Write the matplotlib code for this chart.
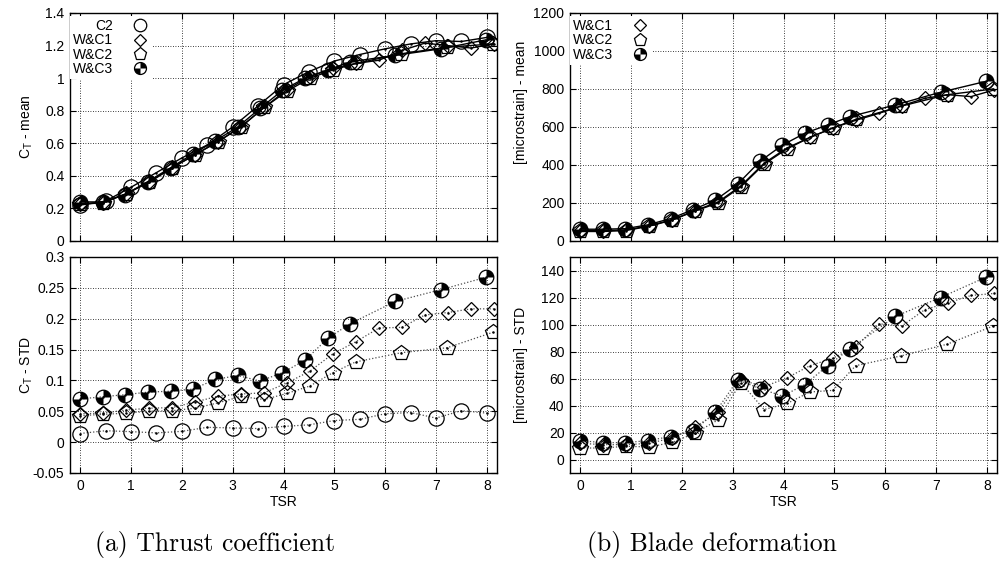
import numpy as np
import matplotlib
matplotlib.use('Agg')
import matplotlib.pyplot as plt
from matplotlib.path import Path
from matplotlib.lines import Line2D
from matplotlib.ticker import FuncFormatter

plt.rcParams['font.family'] = ['Liberation Sans', 'DejaVu Sans']
plt.rcParams['mathtext.fontset'] = 'custom'
plt.rcParams['mathtext.rm'] = 'Liberation Sans'
plt.rcParams['mathtext.it'] = 'Liberation Sans:italic'
plt.rcParams['axes.unicode_minus'] = False

# TSR sample points of each run
tsr_c2 = [0.0, 0.5, 1.0, 1.5, 2.0, 2.5, 3.0, 3.5, 4.0, 4.5, 5.0, 5.5, 6.0, 6.5, 7.0, 7.5, 8.0]
tsr_wc1 = [0.0, 0.45, 0.9, 1.36, 1.81, 2.26, 2.71, 3.16, 3.62, 4.07, 4.52, 4.97, 5.42, 5.88,
           6.33, 6.78, 7.23, 7.69, 8.14]
tsr_wc2 = [0.0, 0.45, 0.9, 1.36, 1.81, 2.26, 2.71, 3.16, 3.62, 4.07, 4.52, 4.97, 5.42, 6.32,
           7.22, 8.12]
tsr_wc3 = [0.0, 0.44, 0.89, 1.33, 1.78, 2.22, 2.66, 3.1, 3.54, 3.98, 4.42, 4.87, 5.31, 6.2,
           7.09, 7.98]

# thrust coefficient, mean
ct_mean_c2 = [0.22, 0.245, 0.33, 0.42, 0.51, 0.59, 0.70, 0.83, 0.96, 1.04, 1.105, 1.145, 1.18,
              1.21, 1.23, 1.225, 1.25]
ct_mean_wc1 = [0.225, 0.235, 0.29, 0.365, 0.45, 0.53, 0.61, 0.70, 0.82, 0.93, 1.01, 1.06, 1.09,
               1.11, 1.17, 1.215, 1.20, 1.185, 1.21]
ct_mean_wc2 = [0.23, 0.235, 0.29, 0.36, 0.45, 0.53, 0.61, 0.70, 0.82, 0.92, 1.0, 1.05, 1.09,
               1.15, 1.19, 1.21]
ct_mean_wc3 = [0.24, 0.24, 0.285, 0.365, 0.45, 0.535, 0.615, 0.70, 0.815, 0.925, 1.0, 1.05,
               1.10, 1.14, 1.18, 1.235]

# thrust coefficient, standard deviation
ct_std_c2 = [0.014, 0.0185, 0.017, 0.015, 0.0175, 0.024, 0.023, 0.022, 0.0255, 0.028, 0.035,
             0.037, 0.046, 0.048, 0.039, 0.051, 0.047]
ct_std_wc1 = [0.046, 0.047, 0.052, 0.055, 0.056, 0.065, 0.0745, 0.078, 0.080, 0.096, 0.115,
              0.143, 0.1625, 0.185, 0.186, 0.206, 0.210, 0.216, 0.216]
ct_std_wc2 = [0.043, 0.045, 0.047, 0.050, 0.051, 0.055, 0.0636, 0.074, 0.069, 0.079, 0.091,
              0.1125, 0.130, 0.145, 0.153, 0.178]
ct_std_wc3 = [0.070, 0.0735, 0.077, 0.081, 0.0826, 0.086, 0.1016, 0.108, 0.099, 0.1125, 0.1326,
              0.168, 0.192, 0.228, 0.247, 0.267]

# blade strain [microstrain], mean
bd_mean_wc1 = [55, 55, 58, 80, 112, 160, 205, 290, 410, 490, 545, 595, 635, 672, 712, 751, 770,
               760, 795]
bd_mean_wc2 = [50, 50, 55, 78, 110, 158, 200, 285, 405, 485, 545, 595, 640, 710, 770, 800]
bd_mean_wc3 = [62, 62, 65, 85, 118, 165, 215, 300, 420, 505, 567, 611, 655, 716, 783, 840]

# blade strain [microstrain], standard deviation
bd_std_wc1 = [12, 11, 11, 12, 16, 24, 35, 59, 54, 60.5, 69.5, 75, 83.5, 100.5, 99, 111, 116,
              121.5, 123]
bd_std_wc2 = [8.5, 8.5, 9.8, 9.3, 12.7, 19.5, 29.3, 57, 37, 41.5, 50, 51.2, 69.5, 76.8, 85.4,
              98.8]
bd_std_wc3 = [14, 12.5, 12.5, 14, 17, 21, 35, 59, 52.5, 47, 55.5, 69.5, 82, 106, 120, 135]

# quartered circle: black top-right and bottom-left
pie = Path.make_compound_path(Path.wedge(0, 90), Path.wedge(180, 270))

marks = {
    'C2': dict(marker='o', ms=11),
    'W&C1': dict(marker='D', ms=7.6),
    'W&C2': dict(marker='p', ms=11.5),
    'W&C3': dict(marker='o', ms=10.5),
}


def series(ax, x, y, key, ls, lw, lc):
    m = marks[key]
    ax.plot(x, y, ls=ls, lw=lw, color=lc, marker=m['marker'], ms=m['ms'],
            mfc='none', mec='k', mew=0.9, zorder=3)
    if key == 'W&C3':
        ax.plot(x, y, ls='none', marker=pie, ms=m['ms'], mfc='k', mec='none', zorder=4)
    ax.plot(x, y, ls='none', marker='.', ms=1.6, color='k', zorder=5)


def proxy(key):
    m = marks[key]
    h = Line2D([], [], ls='none', marker=m['marker'], ms=m['ms'], mfc='none', mec='k', mew=0.9)
    if key == 'W&C3':
        return (h, Line2D([], [], ls='none', marker=pie, ms=m['ms'], mfc='k', mec='none'))
    return h


def style(ax, yticks, bottom):
    ax.set_xlim(-0.2, 8.2)
    ax.set_xticks(range(0, 9))
    ax.set_yticks(yticks)
    ax.yaxis.set_major_formatter(FuncFormatter(lambda v, p: '%g' % (round(v, 6) + 0.0)))
    ax.tick_params(direction='in', top=True, right=True, length=4, width=0.8,
                   labelsize=10, pad=4)
    if not bottom:
        ax.tick_params(labelbottom=False)
    else:
        ax.set_xlabel('TSR', fontsize=10, labelpad=2)
    ax.grid(True, ls=(0, (1, 2)), color='k', lw=0.6)
    ax.set_axisbelow(True)
    for s in ax.spines.values():
        s.set_linewidth(1.0)


def legend(ax, keys):
    lg = ax.legend([proxy(k) for k in keys], keys, loc='upper left', markerfirst=False,
                   bbox_to_anchor=(0.0, 0.985), frameon=True, fancybox=False,
                   edgecolor='none', facecolor='white', framealpha=1, borderaxespad=0,
                   borderpad=0.2, labelspacing=0.02, handlelength=1.3, handletextpad=1.3,
                   markerscale=0.82, fontsize=10)
    lg.set_zorder(6)


fig = plt.figure(figsize=(10.02, 5.67), dpi=100)
W, H = 1002, 567


def axes_px(x0, y0, x1, y1):
    return fig.add_axes([x0 / W, 1 - y1 / H, (x1 - x0) / W, (y1 - y0) / H])


ax_a1 = axes_px(70, 13, 497, 241)
ax_a2 = axes_px(70, 257, 497, 473)
ax_b1 = axes_px(570, 13, 997, 241)
ax_b2 = axes_px(570, 257, 997, 473)

# (a) thrust coefficient
series(ax_a1, tsr_c2, ct_mean_c2, 'C2', '-', 1.0, 'k')
series(ax_a1, tsr_wc1, ct_mean_wc1, 'W&C1', '-', 1.0, 'k')
series(ax_a1, tsr_wc2, ct_mean_wc2, 'W&C2', '-', 1.0, 'k')
series(ax_a1, tsr_wc3, ct_mean_wc3, 'W&C3', '-', 1.0, 'k')
style(ax_a1, [0, 0.2, 0.4, 0.6, 0.8, 1.0, 1.2, 1.4], False)
ax_a1.set_ylim(0, 1.4)
ax_a1.set_ylabel(r'C$_{\mathrm{T}}$ - mean', fontsize=10)
ax_a1.yaxis.set_label_coords(-0.082, 0.5)
legend(ax_a1, ['C2', 'W&C1', 'W&C2', 'W&C3'])

dot = (0, (1, 1.6))
series(ax_a2, tsr_c2, ct_std_c2, 'C2', dot, 0.9, '0.3')
series(ax_a2, tsr_wc1, ct_std_wc1, 'W&C1', dot, 0.9, '0.3')
series(ax_a2, tsr_wc2, ct_std_wc2, 'W&C2', dot, 0.9, '0.3')
series(ax_a2, tsr_wc3, ct_std_wc3, 'W&C3', dot, 0.9, '0.3')
style(ax_a2, [-0.05, 0, 0.05, 0.1, 0.15, 0.2, 0.25, 0.3], True)
ax_a2.set_ylim(-0.05, 0.3)
ax_a2.set_ylabel(r'C$_{\mathrm{T}}$ - STD', fontsize=10)
ax_a2.yaxis.set_label_coords(-0.082, 0.5)

# (b) blade deformation
series(ax_b1, tsr_wc1, bd_mean_wc1, 'W&C1', '-', 1.0, 'k')
series(ax_b1, tsr_wc2, bd_mean_wc2, 'W&C2', '-', 1.0, 'k')
series(ax_b1, tsr_wc3, bd_mean_wc3, 'W&C3', '-', 1.0, 'k')
style(ax_b1, [0, 200, 400, 600, 800, 1000, 1200], False)
ax_b1.set_ylim(0, 1200)
ax_b1.set_ylabel('[microstrain] - mean', fontsize=10)
ax_b1.yaxis.set_label_coords(-0.098, 0.61)
legend(ax_b1, ['W&C1', 'W&C2', 'W&C3'])

series(ax_b2, tsr_wc1, bd_std_wc1, 'W&C1', dot, 0.9, '0.3')
series(ax_b2, tsr_wc2, bd_std_wc2, 'W&C2', dot, 0.9, '0.3')
series(ax_b2, tsr_wc3, bd_std_wc3, 'W&C3', dot, 0.9, '0.3')
style(ax_b2, [0, 20, 40, 60, 80, 100, 120, 140], True)
ax_b2.set_ylim(-10, 150)
ax_b2.set_ylabel('[microstrain] - STD', fontsize=10)
ax_b2.yaxis.set_label_coords(-0.098, 0.5)

fig.text(215 / W, 1 - 545 / H, '(a) Thrust coefficient', family='cmr10', fontsize=18.5,
         ha='center', va='center')
fig.text(712 / W, 1 - 545 / H, '(b) Blade deformation', family='cmr10', fontsize=18.5,
         ha='center', va='center')

fig.savefig('out.png', dpi=100)
